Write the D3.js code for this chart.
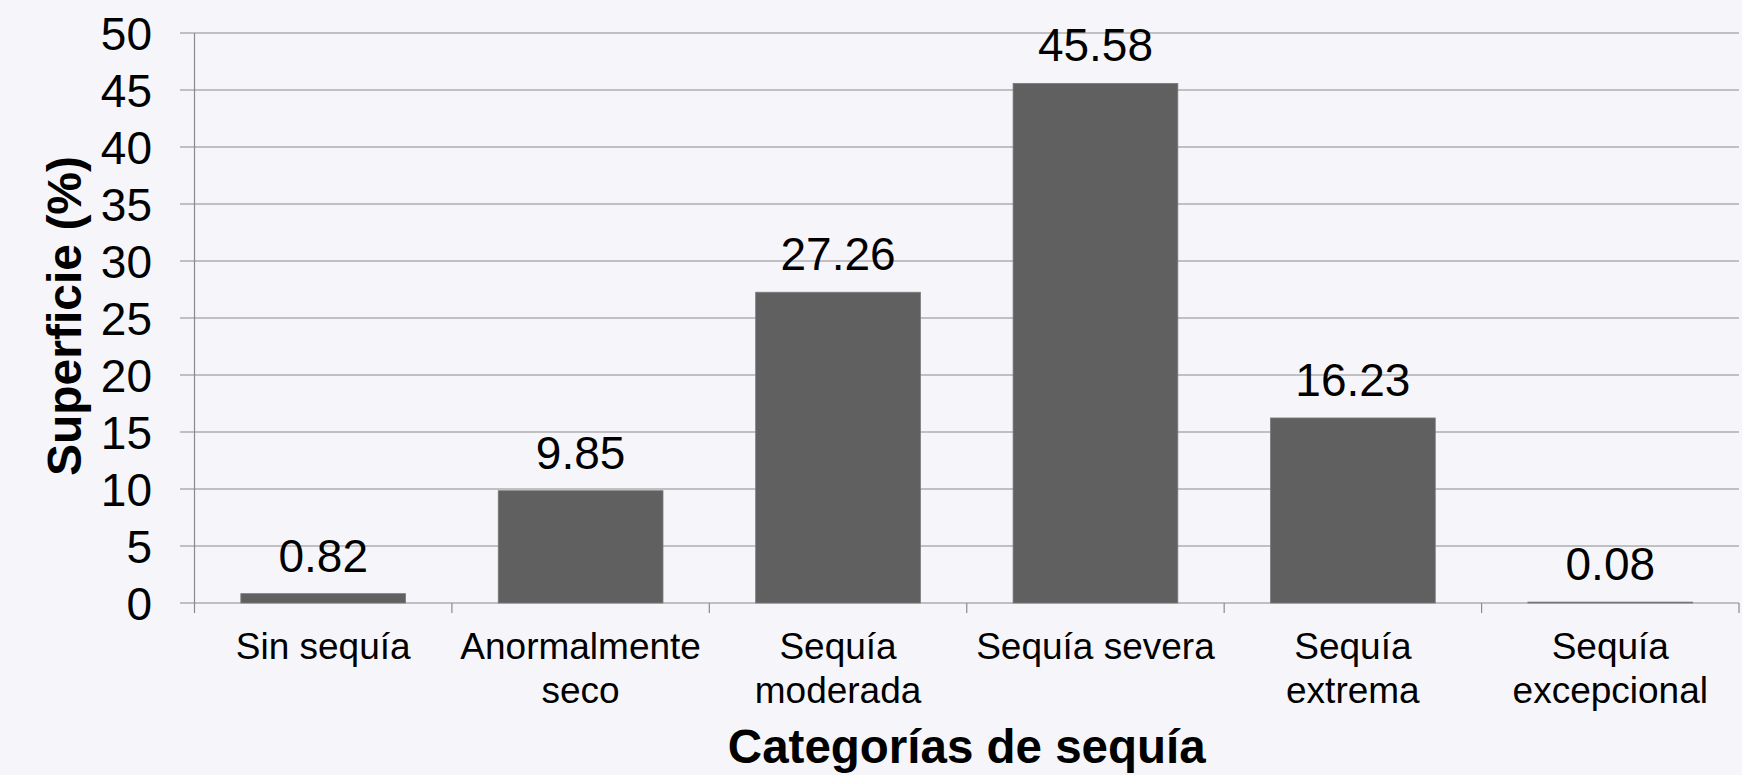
<!DOCTYPE html>
<html>
<head>
<meta charset="utf-8">
<script src="https://cdn.jsdelivr.net/npm/d3@7"></script>
<style>
  html, body { margin: 0; padding: 0; background: #f6f6fa; }
  svg { display: block; font-family: "Liberation Sans", Arial, sans-serif; }
</style>
</head>
<body>
<svg id="chart" width="1742" height="775"></svg>
<script>
// Drought categories (each label split into its display lines)
const categories = ["Sin sequía", "Anormalmente seco", "Sequía moderada", "Sequía severa", "Sequía extrema", "Sequía excepcional"];
const categoryLines = [["Sin sequía"], ["Anormalmente", "seco"], ["Sequía", "moderada"], ["Sequía severa"], ["Sequía", "extrema"], ["Sequía", "excepcional"]];
// Share of surface area (%) per category
const values = [0.82, 9.85, 27.26, 45.58, 16.23, 0.08];
const yTicks = [0, 5, 10, 15, 20, 25, 30, 35, 40, 45, 50];

const svg = d3.select("#chart");
const margin = { left: 194.5, right: 3, top: 33, bottom: 172 };
const W = 1742, H = 775;
const x0 = margin.left, x1 = W - margin.right;
const yTop = margin.top, yBot = H - margin.bottom;

const x = d3.scaleBand().domain(categories).range([x0, x1]).paddingInner(0.36).paddingOuter(0.18);
const y = d3.scaleLinear().domain([0, 50]).range([yBot, yTop]);

const gridColor = "#8a8a8a";

// Horizontal gridlines with short left ticks
svg.append("g").selectAll("line").data(yTicks).join("line")
  .attr("x1", x0 - 14.5).attr("x2", x1)
  .attr("y1", d => y(d)).attr("y2", d => y(d))
  .attr("stroke", gridColor).attr("stroke-width", 1.2);

// Y tick labels
svg.append("g").selectAll("text").data(yTicks).join("text")
  .attr("x", 152).attr("y", d => y(d)).attr("dy", "0.36em")
  .attr("text-anchor", "end").attr("font-size", 46).attr("fill", "#000")
  .text(d => d);

// Left axis line
svg.append("line").attr("x1", x0).attr("x2", x0).attr("y1", yTop).attr("y2", yBot + 10)
  .attr("stroke", gridColor).attr("stroke-width", 1.2);

// Category boundary ticks on the baseline
const bounds = d3.range(categories.length + 1).map(i => x0 + i * (x1 - x0) / categories.length);
svg.append("g").selectAll("line").data(bounds.slice(1)).join("line")
  .attr("x1", d => d).attr("x2", d => d).attr("y1", yBot).attr("y2", yBot + 10)
  .attr("stroke", gridColor).attr("stroke-width", 1.2);

// Bars
svg.append("g").selectAll("rect").data(values).join("rect")
  .attr("x", (d, i) => x(categories[i]))
  .attr("width", x.bandwidth())
  .attr("y", d => y(d))
  .attr("height", d => y(0) - y(d))
  .attr("fill", "#606060")
  .attr("stroke", "#7a7a7a").attr("stroke-width", 0.8);

// Value labels above bars
svg.append("g").selectAll("text").data(values).join("text")
  .attr("x", (d, i) => x(categories[i]) + x.bandwidth() / 2)
  .attr("y", d => y(d) - 22)
  .attr("text-anchor", "middle").attr("font-size", 46).attr("fill", "#000")
  .text(d => d.toFixed(2));

// Category labels
const catG = svg.append("g").selectAll("text").data(categoryLines).join("text")
  .attr("text-anchor", "middle").attr("font-size", 37).attr("fill", "#000");
catG.each(function (lines, i) {
  const cx = x(categories[i]) + x.bandwidth() / 2;
  d3.select(this).selectAll("tspan").data(lines).join("tspan")
    .attr("x", cx).attr("y", (l, j) => 659 + j * 43.5).text(l => l);
});

// Axis titles
svg.append("text").attr("x", (x0 + x1) / 2).attr("y", 763)
  .attr("text-anchor", "middle").attr("font-size", 47.5).attr("font-weight", "bold")
  .text("Categorías de sequía");

svg.append("text").attr("transform", "translate(81,316) rotate(-90)")
  .attr("text-anchor", "middle").attr("font-size", 48).attr("font-weight", "bold")
  .text("Superficie (%)");
</script>
</body>
</html>
